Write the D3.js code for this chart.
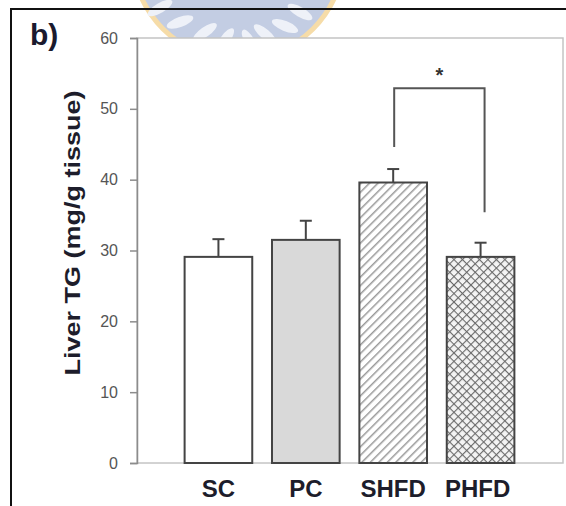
<!DOCTYPE html>
<html>
<head>
<meta charset="utf-8">
<script src="https://cdn.jsdelivr.net/npm/d3@7"></script>
<style>
  body { margin: 0; background: #fff; }
  svg { display: block; }
</style>
</head>
<body>
<script>
const width = 566;
const height = 506;
const margin = { top: 38, right: 3, bottom: 43, left: 137 };

// data
const groups = ["SC", "PC", "SHFD", "PHFD"];
const means = [29.1, 31.5, 39.6, 29.1];
const errors = [2.5, 2.7, 1.9, 2.0];
const yTicks = [0, 10, 20, 30, 40, 50, 60];
// significance bracket: SHFD vs PHFD, in data units
const bracket = { from: "SHFD", to: "PHFD", top: 52.9, leftEnd: 44.6, rightEnd: 35.4, label: "*" };

const svg = d3.select("body").append("svg")
  .attr("width", width)
  .attr("height", height);

const defs = svg.append("defs");

// diagonal hatch for SHFD
const hatch = defs.append("pattern")
  .attr("id", "hatch")
  .attr("patternUnits", "userSpaceOnUse")
  .attr("width", 6).attr("height", 6)
  .attr("patternTransform", "rotate(45)");
hatch.append("rect").attr("width", 6).attr("height", 6).attr("fill", "#fff");
hatch.append("line")
  .attr("x1", 0).attr("y1", 0).attr("x2", 0).attr("y2", 6)
  .attr("stroke", "#999").attr("stroke-width", 3);

// cross hatch for PHFD
const cross = defs.append("pattern")
  .attr("id", "cross")
  .attr("patternUnits", "userSpaceOnUse")
  .attr("width", 6).attr("height", 6)
  .attr("patternTransform", "rotate(45)");
cross.append("rect").attr("width", 6).attr("height", 6).attr("fill", "#f4f4f4");
cross.append("line").attr("x1", 0).attr("y1", 0).attr("x2", 0).attr("y2", 6)
  .attr("stroke", "#6a6a6a").attr("stroke-width", 2.2);
cross.append("line").attr("x1", 0).attr("y1", 0).attr("x2", 6).attr("y2", 0)
  .attr("stroke", "#6a6a6a").attr("stroke-width", 2.2);

const fills = { "SC": "#fff", "PC": "#d9d9d9", "SHFD": "url(#hatch)", "PHFD": "url(#cross)" };

// watermark logo behind everything
const logo = svg.append("g");
logo.append("circle")
  .attr("cx", 238).attr("cy", -46).attr("r", 106)
  .attr("fill", "#c3cde3").attr("stroke", "#f6dca8").attr("stroke-width", 5);
[[160, 8, -30], [180, 22, -20], [205, 32, -35], [225, 40, -55], [300, 12, 30], [285, 26, 22], [265, 34, 40], [250, 42, 60]]
  .forEach(([cx, cy, rot]) => {
    logo.append("ellipse")
      .attr("cx", cx).attr("cy", cy).attr("rx", 14).attr("ry", 5)
      .attr("transform", `rotate(${rot},${cx},${cy})`)
      .attr("fill", "#eef1f8");
  });

// outer figure frame
svg.append("path")
  .attr("d", `M11,${height} L11,9 L${width},9`)
  .attr("fill", "none").attr("stroke", "#111").attr("stroke-width", 2);

const x = d3.scaleBand()
  .domain(groups)
  .range([175, 524])
  .paddingInner(0.226)
  .paddingOuter(0.11);

const y = d3.scaleLinear()
  .domain([0, 60])
  .range([height - margin.bottom, margin.top]);

// plot box
svg.append("rect")
  .attr("x", margin.left).attr("y", margin.top)
  .attr("width", width - margin.right - margin.left)
  .attr("height", height - margin.bottom - margin.top)
  .attr("fill", "#fff").attr("stroke", "#c4c4c4").attr("stroke-width", 1.5);

// y axis
const yAxis = svg.append("g")
  .attr("transform", `translate(${margin.left},0)`)
  .call(d3.axisLeft(y).tickValues(yTicks).tickSize(7).tickPadding(12));
yAxis.select(".domain").attr("stroke", "#8c8c8c").attr("stroke-width", 1.5);
yAxis.selectAll(".tick line").attr("stroke", "#8c8c8c").attr("stroke-width", 1.5);
yAxis.selectAll(".tick text")
  .attr("fill", "#555")
  .style("font", "16px 'Liberation Sans', Arial, sans-serif");

// bars
svg.selectAll(".bar")
  .data(groups)
  .join("rect")
  .attr("class", "bar")
  .attr("x", d => x(d))
  .attr("y", (d, i) => y(means[i]))
  .attr("width", x.bandwidth())
  .attr("height", (d, i) => y(0) - y(means[i]))
  .attr("fill", d => fills[d])
  .attr("stroke", "#444")
  .attr("stroke-width", 2);

// error bars (upper only)
const err = svg.selectAll(".err")
  .data(groups)
  .join("g")
  .attr("class", "err")
  .attr("stroke", "#444")
  .attr("stroke-width", 2);
err.append("line")
  .attr("x1", d => x(d) + x.bandwidth() / 2)
  .attr("x2", d => x(d) + x.bandwidth() / 2)
  .attr("y1", (d, i) => y(means[i]))
  .attr("y2", (d, i) => y(means[i] + errors[i]));
err.append("line")
  .attr("x1", d => x(d) + x.bandwidth() / 2 - 6)
  .attr("x2", d => x(d) + x.bandwidth() / 2 + 6)
  .attr("y1", (d, i) => y(means[i] + errors[i]))
  .attr("y2", (d, i) => y(means[i] + errors[i]));

// significance bracket
const bx1 = x(bracket.from) + x.bandwidth() / 2 + 1;
const bx2 = x(bracket.to) + x.bandwidth() / 2 + 4;
svg.append("path")
  .attr("d", `M${bx1},${y(bracket.leftEnd)} V${y(bracket.top)} H${bx2} V${y(bracket.rightEnd)}`)
  .attr("fill", "none").attr("stroke", "#555").attr("stroke-width", 2);
svg.append("text")
  .attr("x", (bx1 + bx2) / 2)
  .attr("y", y(bracket.top) - 6)
  .attr("text-anchor", "middle")
  .attr("fill", "#333")
  .style("font", "bold 20px 'Liberation Sans', Arial, sans-serif")
  .text(bracket.label);

// x labels
svg.selectAll(".xlab")
  .data(groups)
  .join("text")
  .attr("class", "xlab")
  .attr("x", d => x(d) + x.bandwidth() / 2 - (d === "PHFD" ? 3 : 0))
  .attr("y", 497)
  .attr("text-anchor", "middle")
  .attr("fill", "#1d1d2b")
  .style("font", "bold 24px 'Liberation Sans', Arial, sans-serif")
  .text(d => d);

// y axis title (squeezed across, like the scanned figure)
svg.append("text")
  .attr("transform", "translate(80,233) rotate(-90) scale(1,0.85)")
  .attr("text-anchor", "middle")
  .attr("fill", "#1d1d2b")
  .style("font", "bold 27px 'Liberation Sans', Arial, sans-serif")
  .text("Liver TG (mg/g tissue)");

// panel letter
svg.append("text")
  .attr("x", 30).attr("y", 45)
  .attr("fill", "#1a1a2e")
  .style("font", "bold 30px 'Liberation Sans', Arial, sans-serif")
  .text("b)");
</script>
</body>
</html>
